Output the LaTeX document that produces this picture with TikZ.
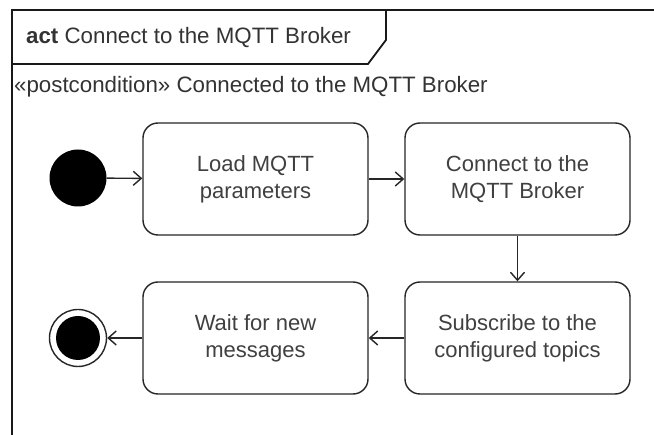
\documentclass[tikz,border=0pt]{standalone}
\usepackage{fontspec}
\setmainfont{Liberation Sans}
\usetikzlibrary{arrows.meta}
\tikzset{
  px/.style={x=1pt,y=-1pt},
  action/.style={draw=black!85, line width=1.4pt, rounded corners=15pt,
    minimum width=225pt, minimum height=112pt, align=center,
    font=\fontsize{22}{27}\selectfont, text=black!75, inner sep=0pt},
  flow/.style={draw=black!85, line width=1.4pt,
    -{Straight Barb[length=8pt,width=14pt,line width=1.4pt]}},
  framestyle/.style={draw=black!90, line width=1.8pt},
  label/.style={font=\fontsize{22.3}{25}\selectfont, text=black!80, inner sep=0pt, anchor=west}
}
\begin{document}
\begin{tikzpicture}[px]
\useasboundingbox (0,0) rectangle (654,435);
\fill[white] (0,0) rectangle (654,435);
% activity frame with its name tab
\draw[framestyle] (12,440) -- (12,10) -- (660,10);
\draw[framestyle] (12,64) -- (368,64) -- (386,40) -- (386,10);
\node[label] (title) at (26,38) {\textbf{act} Connect to the MQTT Broker};
\node[label] (post) at (14,87) {«postcondition» Connected to the MQTT Broker};
% initial and final nodes
\node[circle, fill=black, minimum size=57pt, inner sep=0pt] (start) at (78,178) {};
\node[circle, draw=black!85, line width=1.4pt, fill=white, minimum size=57pt, inner sep=0pt] (stop) at (78,338) {};
\node[circle, fill=black, minimum size=44pt, inner sep=0pt] (stopin) at (78,338) {};
% actions
\node[action] (load) at (255.5,179) {Load MQTT\\parameters};
\node[action] (connect) at (517.5,179) {Connect to the\\MQTT Broker};
\node[action] (subscribe) at (517.5,338) {Subscribe to the\\configured topics};
\node[action] (wait) at (255.5,338) {Wait for new\\messages};
% control flow
\draw[flow] (start) -- (load);
\draw[flow] (load) -- (connect);
\draw[flow] (connect) -- (subscribe);
\draw[flow] (subscribe) -- (wait);
\draw[flow] (wait) -- (stop);
\end{tikzpicture}
\end{document}
